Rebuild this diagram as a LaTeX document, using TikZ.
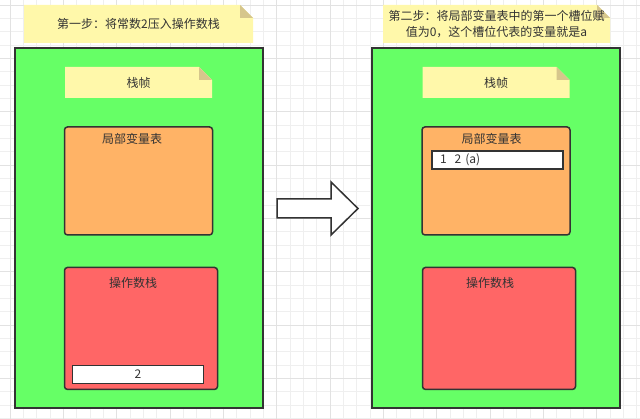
\documentclass[tikz,border=0pt]{standalone}
\usepackage{fontspec}
\setmainfont{Noto Sans CJK SC}
\usepackage{tikz}
\usetikzlibrary{positioning, calc}
\definecolor{framegreen}{HTML}{66FF66}
\definecolor{localorange}{HTML}{FFB366}
\definecolor{stackred}{HTML}{FF6666}
\definecolor{notefill}{HTML}{FFF8AA}
\definecolor{notefold}{HTML}{D6C68C}
\definecolor{inkgray}{HTML}{333333}
\definecolor{gridminor}{HTML}{EFEFEF}
\definecolor{gridmajor}{HTML}{E2E2E2}
\tikzstyle{box} = [rectangle, draw=inkgray, line width=1.5pt, text=inkgray]
\tikzstyle{frame} = [box, fill=framegreen, minimum width=248pt, minimum height=360pt]
\tikzstyle{area} = [box, rounded corners=3pt, minimum width=148pt, minimum height=108pt]
\tikzstyle{slot} = [box, fill=white, minimum width=131pt, minimum height=18pt, inner sep=0pt]
\tikzstyle{note} = [rectangle, text=inkgray, inner sep=0pt, align=center,
    path picture={
        \fill[notefill] (path picture bounding box.south west) -- (path picture bounding box.north west)
            -- ($(path picture bounding box.north east)+(-13pt,0pt)$) -- ($(path picture bounding box.north east)+(0pt,-13pt)$)
            -- (path picture bounding box.south east) -- cycle;
        \fill[notefold] ($(path picture bounding box.north east)+(-13pt,0pt)$) -- ($(path picture bounding box.north east)+(0pt,-13pt)$)
            -- ($(path picture bounding box.north east)+(-13pt,-13pt)$) -- cycle;
    }]
\tikzstyle{areatitle} = [text=inkgray, inner sep=0pt]

\begin{document}
\begin{tikzpicture}[x=1pt, y=-1pt, font=\fontsize{12}{16.5}\selectfont]
        \tikzstyle{fatarrow} = [draw=inkgray, line width=1.5pt, fill=white, line join=miter]
        \useasboundingbox (0,0) rectangle (640,419);

        % background grid
        \foreach \k in {0,...,47} {
            \draw[gridminor, line width=0.6pt] (10+\k*13.333,0) -- (10+\k*13.333,419);
        }
        \foreach \k in {0,...,31} {
            \draw[gridminor, line width=0.6pt] (0,5+\k*13.333) -- (640,5+\k*13.333);
        }
        \foreach \k in {0,4,...,44} {
            \draw[gridmajor, line width=0.8pt] (10+\k*13.333,0) -- (10+\k*13.333,419);
        }
        \foreach \k in {0,4,...,28} {
            \draw[gridmajor, line width=0.8pt] (0,5+\k*13.333) -- (640,5+\k*13.333);
        }

        % step 1
        \node[note, minimum width=229pt, minimum height=38pt] (stepL) at (138.5,24) {第一步：将常数2压入操作数栈};
        \node[frame] (frameL) at (139,228) {};
        \node[note, minimum width=147pt, minimum height=31pt] (frameCapL) at (138.5,82.5) {栈帧};
        \node[area, fill=localorange, below=28pt of frameCapL] (localL) {};
        \node[areatitle] (localTitleL) at ($(localL.north)+(-6.5,13)$) {局部变量表};
        \node[area, fill=stackred, minimum width=153pt, minimum height=122pt, below=31pt of localL, xshift=2.5pt] (stackL) {};
        \node[areatitle] (stackTitleL) at ($(stackL.north)+(-8,16)$) {操作数栈};
        \node[slot, above=6pt of stackL.south, xshift=-3pt] (slotL) {2};

        % step 2
        \node[note, minimum width=227pt, minimum height=38pt] (stepR) at (496.5,24) {第二步：将局部变量表中的第一个槽位赋\\值为0，这个槽位代表的变量就是a};
        \node[frame] (frameR) at (496,228) {};
        \node[note, minimum width=147pt, minimum height=31pt] (frameCapR) at (496,82.5) {栈帧};
        \node[area, fill=localorange, below=28pt of frameCapR] (localR) {};
        \node[areatitle] (localTitleR) at ($(localR.north)+(-4.5,13)$) {局部变量表};
        \node[slot, text width=115pt, align=left, inner xsep=8pt, below=24pt of localR.north, xshift=1.5pt] (slotR) {1\ \ 2 (a)};
        \node[area, fill=stackred, minimum width=153pt, minimum height=122pt, below=31pt of localR, xshift=3pt] (stackR) {};
        \node[areatitle] (stackTitleR) at ($(stackR.north)+(-9,16)$) {操作数栈};

        \draw[fatarrow] (277,199) -- (331,199) -- (331,182) -- (358,208.5) -- (331,235) -- (331,218) -- (277,218) -- cycle;

    \end{tikzpicture}
\end{document}
